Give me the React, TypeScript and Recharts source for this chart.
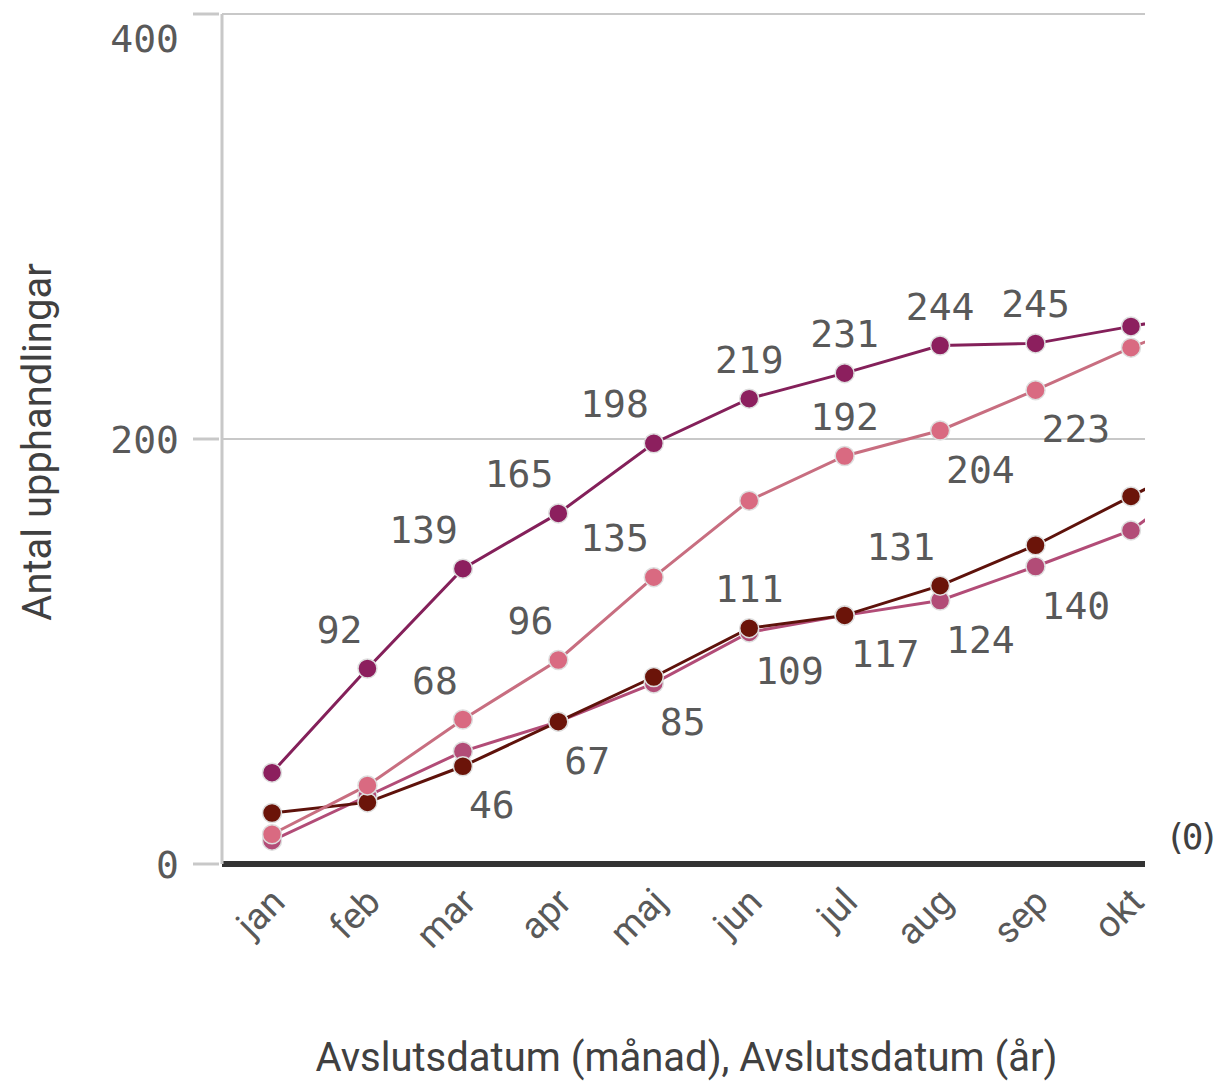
import { LineChart, Line, XAxis, YAxis, CartesianGrid, ReferenceLine, LabelList, Label } from 'recharts';

// månader; "nov" ligger utanför synligt område men ger linjernas fortsättning vid högerkanten
const months = ['jan', 'feb', 'mar', 'apr', 'maj', 'jun', 'jul', 'aug', 'sep', 'okt', 'nov'];
const seriesA = [43, 92, 139, 165, 198, 219, 231, 244, 245, 253, 261];
const seriesB = [14, 37, 68, 96, 135, 171, 192, 204, 223, 243, 261];
const seriesC = [24, 29, 46, 67, 88, 111, 117, 131, 150, 173, 196];
const seriesD = [11, 32, 53, 67, 85, 109, 117, 124, 140, 157, 190];
const yTicks = [0, 200, 400];
const xTicks = [0, 1, 2, 3, 4, 5, 6, 7, 8, 9];

// var etiketten hamnar: ul = uppe till vänster, c = ovanför, lr = nere till höger
const placeA = ['', 'ul', 'ul', 'ul', 'ul', 'c', 'c', 'c', 'c', '', ''];
const placeB = ['', '', 'ul', 'ul', 'ul', '', 'c', 'lr', 'lr', '', ''];
const placeC = ['', '', 'lr', 'lr', '', 'c', '', 'ul', '', '', ''];
const placeD = ['', '', '', '', 'lr', 'lr', 'lr', 'lr', 'lr', '', ''];

const data = months.map((m, i) => ({
  i,
  month: m,
  a: seriesA[i],
  b: seriesB[i],
  c: seriesC[i],
  d: seriesD[i],
}));

const MONO = '"DejaVu Sans Mono", monospace';
const SANS = 'Roboto, "Noto Sans", sans-serif';

const makeLabel = (place: string[]) => (props: any) => {
  const { x, y, value, index } = props;
  const p = place[index];
  if (!p) return null;
  let tx = x;
  let ty = y - 26;
  let anchor: 'start' | 'middle' | 'end' = 'middle';
  if (p === 'ul') { tx = x - 5; anchor = 'end'; }
  if (p === 'lr') { tx = x + 6; ty = y + 52; anchor = 'start'; }
  return (
    <text x={tx} y={ty} textAnchor={anchor} fontSize={38} fontFamily={MONO} fill="#595959">
      {value}
    </text>
  );
};

const MonthTick = (props: any) => {
  const { x, y, payload } = props;
  const tx = x + 15;
  const ty = y + 40;
  return (
    <text x={tx} y={ty} transform={`rotate(-45 ${tx} ${ty})`} textAnchor="end"
      fontSize={37} fontFamily={SANS} fill="#595959">
      {months[payload.value]}
    </text>
  );
};

const ValueTick = (props: any) => {
  const { x, y, payload } = props;
  // översta etiketten skjuts ner så att den syns
  const ty = payload.value === 400 ? y + 38 : y + 14;
  return (
    <g>
      <line x1={x - 29} x2={x - 3} y1={y} y2={y} stroke="#c8c8c8" strokeWidth={3} />
      <text x={x - 43} y={ty} textAnchor="end" fontSize={38} fontFamily={MONO} fill="#595959">
        {payload.value}
      </text>
    </g>
  );
};

const dotStyle = (fill: string) => ({ r: 9.5, fill, stroke: '#dedede', strokeWidth: 1.5 });

export default function App() {
  return (
    <div style={{ position: 'absolute', left: 0, top: 0, width: 1221, height: 1083, background: '#fff' }}>
      <LineChart width={1221} height={1083} data={data} margin={{ top: 14, right: 76, bottom: 0, left: 0 }}>
        <CartesianGrid vertical={false} stroke="#c8c8c8" strokeWidth={2} />
        <XAxis
          type="number"
          dataKey="i"
          domain={[-0.524, 9.147]}
          allowDataOverflow
          ticks={xTicks}
          interval={0}
          height={219}
          axisLine={false}
          tickLine={false}
          tickSize={0}
          tickMargin={0}
          tick={<MonthTick />}
        >
          <Label
            content={(p: any) => {
              const vb = p.viewBox;
              return (
                <text x={vb.x + vb.width / 2 + 3} y={vb.y + 207} textAnchor="middle"
                  fontSize={40} fontFamily={SANS} fill="#404040">
                  Avslutsdatum (månad), Avslutsdatum (år)
                </text>
              );
            }}
          />
        </XAxis>
        <YAxis
          type="number"
          domain={[0, 400]}
          ticks={yTicks}
          width={222}
          axisLine={{ stroke: '#c8c8c8', strokeWidth: 3 }}
          tickLine={false}
          tickSize={0}
          tickMargin={0}
          tick={<ValueTick />}
        >
          <Label
            content={(p: any) => {
              const vb = p.viewBox;
              const cy = vb.y + vb.height / 2 + 3;
              return (
                <text x={51} y={cy} transform={`rotate(-90 51 ${cy})`} textAnchor="middle"
                  fontSize={40} fontFamily={SANS} fill="#404040">
                  Antal upphandlingar
                </text>
              );
            }}
          />
        </YAxis>
        <ReferenceLine y={0} stroke="#333333" strokeWidth={6}>
          <Label value="(0)" position="right" offset={20} dy={-28}
            fontSize={36} letterSpacing={-5} fontFamily={MONO} fill="#404040" />
        </ReferenceLine>
        <Line dataKey="d" stroke="#b24c77" strokeWidth={3} dot={dotStyle('#b24c77')} activeDot={false} isAnimationActive={false}>
          <LabelList dataKey="d" content={makeLabel(placeD)} />
        </Line>
        <Line dataKey="c" stroke="#5e120b" strokeWidth={3} dot={dotStyle('#6b1409')} activeDot={false} isAnimationActive={false}>
          <LabelList dataKey="c" content={makeLabel(placeC)} />
        </Line>
        <Line dataKey="b" stroke="#c86e80" strokeWidth={3} dot={dotStyle('#d96a81')} activeDot={false} isAnimationActive={false}>
          <LabelList dataKey="b" content={makeLabel(placeB)} />
        </Line>
        <Line dataKey="a" stroke="#84205a" strokeWidth={3} dot={dotStyle('#8c1f5e')} activeDot={false} isAnimationActive={false}>
          <LabelList dataKey="a" content={makeLabel(placeA)} />
        </Line>
      </LineChart>
    </div>
  );
}
